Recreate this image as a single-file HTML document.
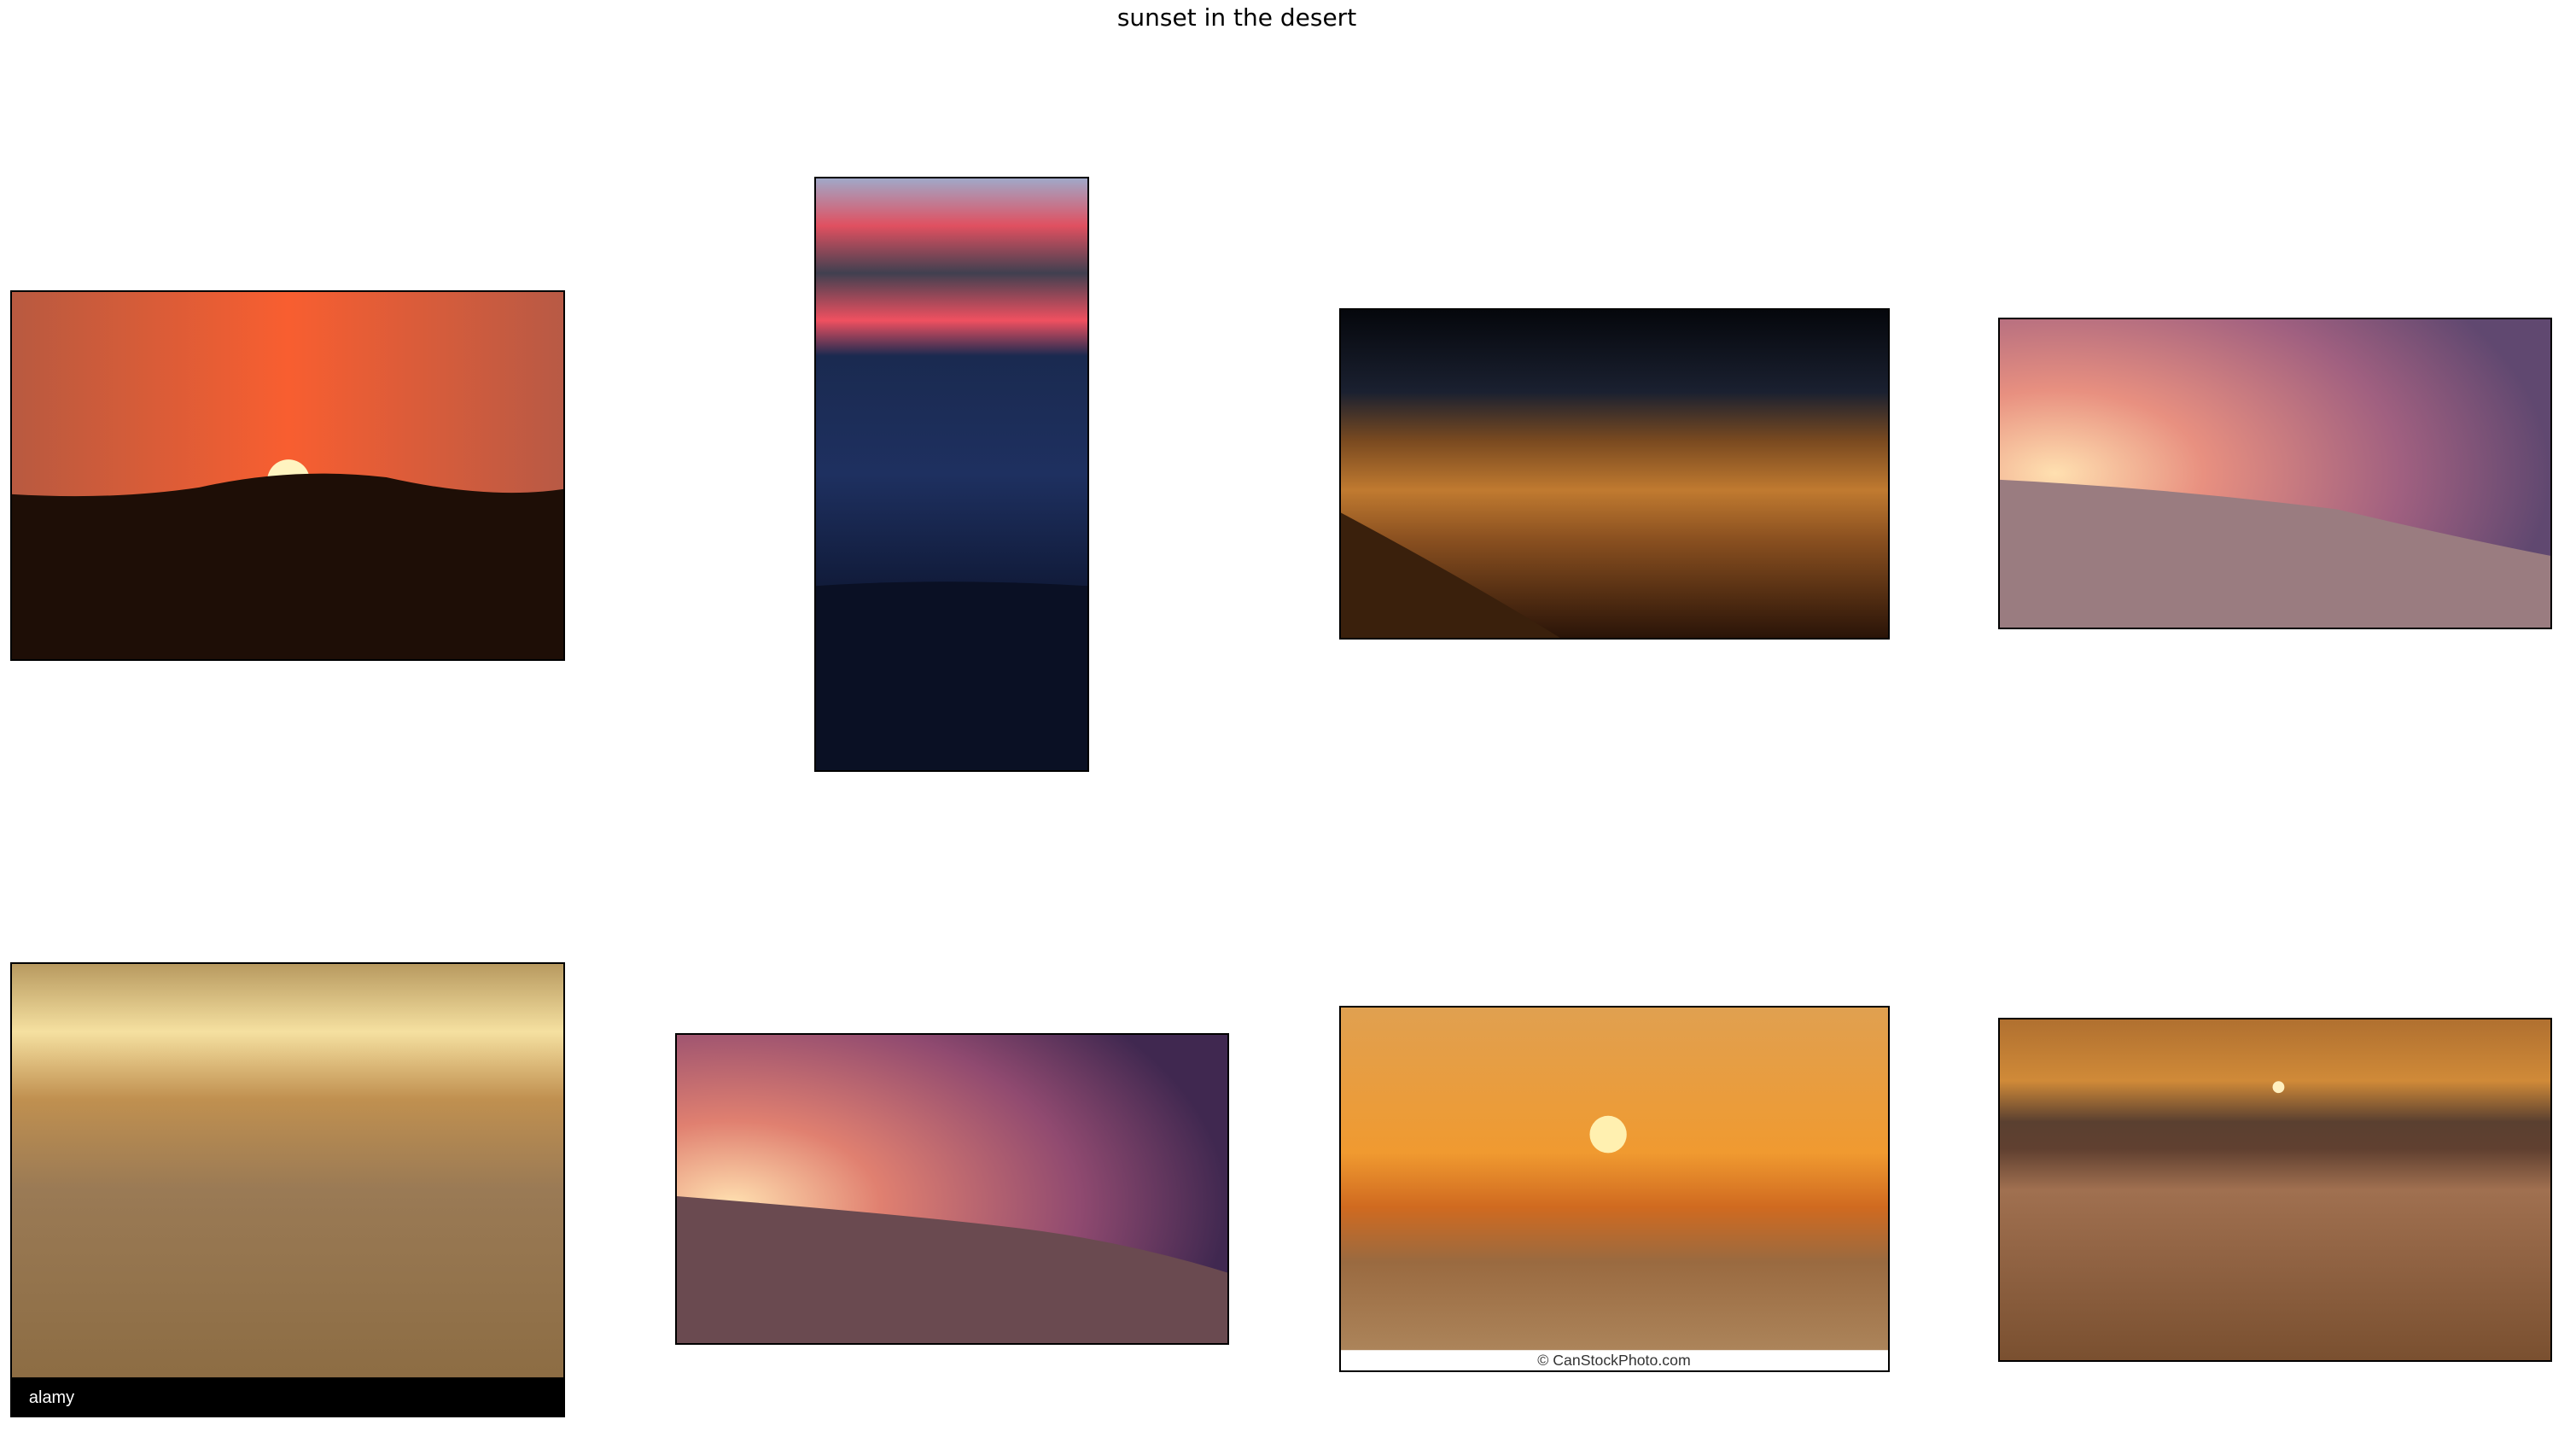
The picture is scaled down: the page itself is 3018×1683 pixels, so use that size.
<!DOCTYPE html>
<html><head><meta charset="utf-8"><style>
html,body{margin:0;padding:0;background:#fff;}
#root{position:relative;width:3018px;height:1683px;overflow:hidden;background:#fff;font-family:"DejaVu Sans","Liberation Sans",sans-serif;}
.t{position:absolute;left:0;width:2898px;top:4px;text-align:center;font-size:28px;color:#000;}
svg.p{position:absolute;border:2px solid #000;box-sizing:border-box;}
</style></head><body>
<div id="root">
<div class="t">sunset in the desert</div>

<svg class="p" style="left:12px;top:340px;width:650px;height:434px" viewBox="0 0 648 432" preserveAspectRatio="none">
<defs><linearGradient id="g1" x1="0" x2="1"><stop offset="0" stop-color="#b85a40"/><stop offset=".5" stop-color="#f85e30"/><stop offset="1" stop-color="#b85a45"/></linearGradient></defs>
<rect width="648" height="432" fill="url(#g1)"/><circle cx="325" cy="222" r="25" fill="#fff4c0"/>
<path d="M0 238 Q120 245 220 230 Q330 205 440 218 Q560 245 648 232 V432 H0Z" fill="#1e0e06"/></svg>

<svg class="p" style="left:954px;top:207px;width:322px;height:697px" viewBox="0 0 322 697" preserveAspectRatio="none">
<defs><linearGradient id="g2" x1="0" y1="0" x2="0" y2="1"><stop offset="0" stop-color="#a0a8c8"/><stop offset=".08" stop-color="#e05060"/><stop offset=".16" stop-color="#404050"/><stop offset=".24" stop-color="#f05060"/><stop offset=".3" stop-color="#1a2a50"/><stop offset=".5" stop-color="#1e3060"/><stop offset=".7" stop-color="#101a38"/><stop offset="1" stop-color="#05060e"/></linearGradient></defs>
<rect width="322" height="697" fill="url(#g2)"/><path d="M0 480 Q150 470 322 480 V697 H0Z" fill="#0a1024"/></svg>

<svg class="p" style="left:1569px;top:361px;width:645px;height:388px" viewBox="0 0 649 388" preserveAspectRatio="none">
<defs><linearGradient id="g3" x1="0" y1="0" x2="0" y2="1"><stop offset="0" stop-color="#05070c"/><stop offset=".25" stop-color="#1a2030"/><stop offset=".4" stop-color="#7a4a20"/><stop offset=".55" stop-color="#c07a30"/><stop offset=".7" stop-color="#8a5020"/><stop offset="1" stop-color="#2a1408"/></linearGradient></defs>
<rect width="649" height="388" fill="url(#g3)"/><path d="M0 240 Q150 320 260 388 H0Z" fill="#3a200c"/></svg>

<svg class="p" style="left:2341px;top:372px;width:649px;height:365px" viewBox="0 0 653 365" preserveAspectRatio="none">
<defs><radialGradient id="g4" cx=".1" cy=".5" r=".9"><stop offset="0" stop-color="#ffe0b0"/><stop offset=".3" stop-color="#e89080"/><stop offset=".7" stop-color="#a06080"/><stop offset="1" stop-color="#604870"/></radialGradient></defs>
<rect width="653" height="365" fill="url(#g4)"/><path d="M0 190 Q200 200 400 225 Q550 260 653 280 V365 H0Z" fill="#9a7c80"/></svg>

<svg class="p" style="left:12px;top:1127px;width:650px;height:533px" viewBox="0 0 648 531" preserveAspectRatio="none">
<defs><linearGradient id="g5" x1="0" y1="0" x2="0" y2="1"><stop offset="0" stop-color="#b89a60"/><stop offset=".15" stop-color="#f5e0a0"/><stop offset=".3" stop-color="#c09050"/><stop offset=".5" stop-color="#9a7a55"/><stop offset="1" stop-color="#8a6a40"/></linearGradient></defs>
<rect width="648" height="531" fill="url(#g5)"/><rect y="486" width="648" height="45" fill="#000"/>
<text x="20" y="516" fill="#fff" font-size="20" font-family="Liberation Sans">alamy</text></svg>

<svg class="p" style="left:791px;top:1210px;width:649px;height:365px" viewBox="0 0 649 363" preserveAspectRatio="none">
<defs><radialGradient id="g6" cx=".1" cy=".55" r=".9"><stop offset="0" stop-color="#ffe0b0"/><stop offset=".3" stop-color="#e08070"/><stop offset=".7" stop-color="#904a70"/><stop offset="1" stop-color="#402850"/></radialGradient></defs>
<rect width="649" height="363" fill="url(#g6)"/><path d="M0 190 Q250 210 380 225 Q520 240 649 280 V363 H0Z" fill="#6a4a50"/></svg>

<svg class="p" style="left:1569px;top:1178px;width:645px;height:429px" viewBox="0 0 651 429" preserveAspectRatio="none">
<defs><linearGradient id="g7" x1="0" y1="0" x2="0" y2="1"><stop offset="0" stop-color="#e0a050"/><stop offset=".4" stop-color="#f09a30"/><stop offset=".55" stop-color="#d06a20"/><stop offset=".7" stop-color="#9a6a40"/><stop offset="1" stop-color="#b08a60"/></linearGradient></defs>
<rect width="651" height="429" fill="url(#g7)"/><circle cx="318" cy="150" r="22" fill="#fff0b0"/>
<rect y="405" width="651" height="24" fill="#fff"/><text x="325" y="423" text-anchor="middle" font-size="18" font-family="Liberation Sans" fill="#333">© CanStockPhoto.com</text></svg>

<svg class="p" style="left:2341px;top:1192px;width:649px;height:403px" viewBox="0 0 652 403" preserveAspectRatio="none">
<defs><linearGradient id="g8" x1="0" y1="0" x2="0" y2="1"><stop offset="0" stop-color="#b07030"/><stop offset=".18" stop-color="#d08a38"/><stop offset=".3" stop-color="#5a4030"/><stop offset=".38" stop-color="#604030"/><stop offset=".5" stop-color="#a07050"/><stop offset="1" stop-color="#7a5030"/></linearGradient></defs>
<rect width="652" height="403" fill="url(#g8)"/><circle cx="330" cy="80" r="7" fill="#fff0c0"/></svg>
</div>
</body></html>
